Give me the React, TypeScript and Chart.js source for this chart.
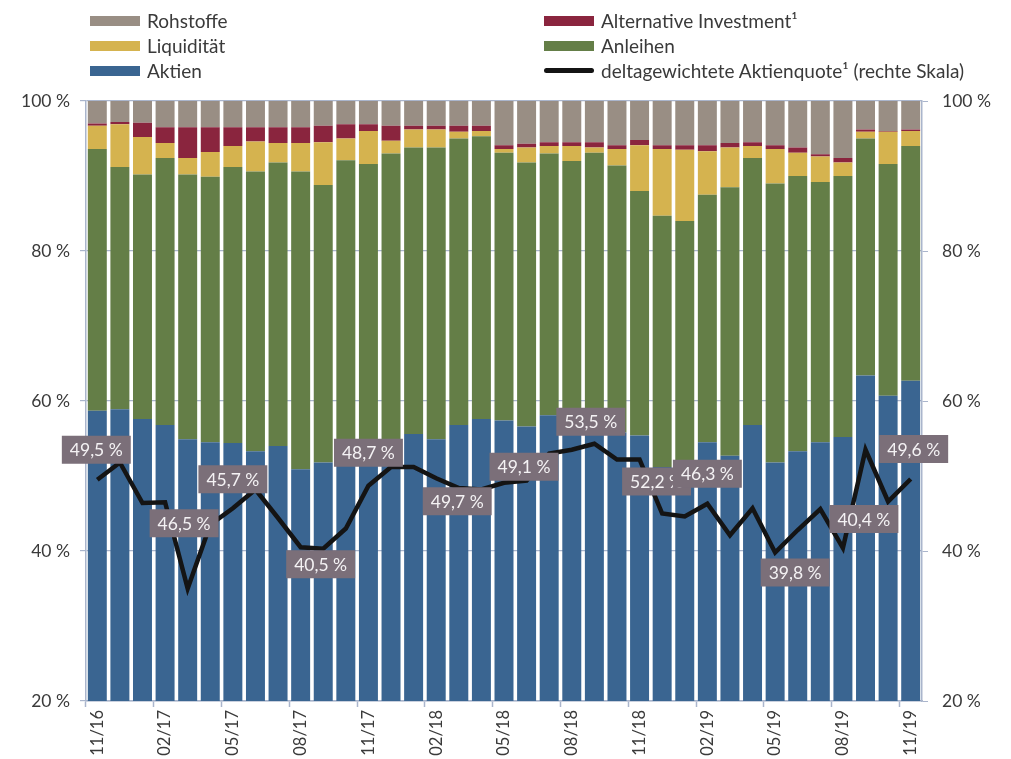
import React, { useEffect, useRef } from "react";
import { Chart, registerables } from "chart.js";

Chart.register(...registerables);

const months = [
  "11/16", "12/16", "01/17", "02/17", "03/17", "04/17", "05/17", "06/17", "07/17", "08/17",
  "09/17", "10/17", "11/17", "12/17", "01/18", "02/18", "03/18", "04/18", "05/18", "06/18",
  "07/18", "08/18", "09/18", "10/18", "11/18", "12/18", "01/19", "02/19", "03/19", "04/19",
  "05/19", "06/19", "07/19", "08/19", "09/19", "10/19", "11/19",
];

const aktien = [
  58.7, 58.9, 57.6, 56.8, 54.9, 54.5, 54.4, 53.3, 54.0, 50.9,
  51.8, 52.6, 53.5, 54.3, 55.6, 54.9, 56.8, 57.6, 57.4, 56.6,
  58.1, 57.5, 56.5, 55.8, 55.4, 51.2, 51.0, 54.5, 52.7, 56.8,
  51.8, 53.3, 54.5, 55.2, 63.4, 60.7, 62.7,
];
const anleihen = [
  34.9, 32.3, 32.6, 35.6, 35.3, 35.4, 36.8, 37.3, 37.8, 39.7,
  37.0, 39.5, 38.1, 38.7, 38.2, 38.9, 38.2, 37.7, 35.7, 35.2,
  34.9, 34.5, 36.6, 35.6, 32.6, 33.5, 33.0, 33.0, 35.8, 35.6,
  37.2, 36.7, 34.7, 34.8, 31.6, 30.9, 31.3,
];
const liquiditaet = [
  3.1, 5.7, 5.0, 2.0, 2.2, 3.3, 2.8, 4.0, 2.6, 3.8,
  5.7, 2.9, 4.4, 1.7, 2.4, 2.4, 0.9, 0.7, 0.5, 2.0,
  1.0, 2.0, 0.7, 2.2, 6.1, 8.9, 9.5, 5.8, 5.3, 1.6,
  4.6, 3.1, 3.4, 1.8, 0.9, 4.3, 2.0,
];
const alternative = [
  0.3, 0.3, 1.9, 2.1, 4.1, 3.3, 2.5, 1.9, 2.1, 2.1,
  2.2, 1.9, 0.9, 2.0, 0.5, 0.5, 0.8, 0.7, 0.5, 0.5,
  0.5, 0.5, 0.7, 0.5, 0.7, 0.5, 0.6, 0.8, 0.6, 0.5,
  0.5, 0.7, 0.3, 0.6, 0.3, 0.1, 0.2,
];
const rohstoffe = [
  3.0, 2.8, 2.9, 3.5, 3.5, 3.5, 3.5, 3.5, 3.5, 3.5,
  3.3, 3.1, 3.1, 3.3, 3.3, 3.3, 3.3, 3.3, 5.9, 5.7,
  5.5, 5.5, 5.5, 5.9, 5.2, 5.9, 5.9, 5.9, 5.6, 5.5,
  5.9, 6.2, 7.1, 7.6, 3.8, 4.0, 3.8,
];
const aktienquote = [
  49.5, 51.8, 46.4, 46.5, 35.0, 43.5, 45.7, 48.2, 44.4, 40.5,
  40.3, 43.0, 48.7, 51.2, 51.2, 49.7, 48.4, 48.2, 49.1, 49.4,
  53.0, 53.5, 54.3, 52.2, 52.2, 45.0, 44.6, 46.3, 42.1, 45.7,
  39.8, 42.8, 45.6, 40.4, 53.5, 46.6, 49.6,
];
const yTicks = [20, 40, 60, 80, 100];

const labelledPoints = [0, 3, 6, 9, 12, 15, 18, 21, 24, 27, 30, 33, 36];
const labelOffsets: [number, number][] = [
  [-1, -30], [19, 21], [0, -29], [20, 17], [0, -33], [21, 23], [20, -16],
  [19, -28], [17, 22], [0, -30], [20, 20], [21, -29], [3, -30],
];

const C_AKT = "#3a6591";
const C_ANL = "#647e47";
const C_LIQ = "#d5b34f";
const C_ALT = "#8a253e";
const C_ROH = "#998e84";
const C_AXIS = "#aab5cc";
const C_TEXT = "#3a3a3a";
const C_BOX = "#7b6f79";
const FONT = "Lato";

const labelPlugin = {
  id: "quoteLabels",
  afterDatasetsDraw(chart: any) {
    const meta = chart.getDatasetMeta(5);
    const ctx = chart.ctx;
    ctx.save();
    ctx.font = `17.5px ${FONT}`;
    ctx.textAlign = "center";
    ctx.textBaseline = "middle";
    labelledPoints.forEach((idx, k) => {
      const pt = meta.data[idx];
      if (!pt) return;
      const [dx, dy] = labelOffsets[k];
      const cx = pt.x + dx;
      const cy = pt.y + dy;
      const text = aktienquote[idx].toFixed(1).replace(".", ",") + " %";
      const w = ctx.measureText(text).width + 16;
      const h = 28;
      ctx.fillStyle = C_BOX;
      ctx.fillRect(cx - w / 2, cy - h / 2, w, h);
      ctx.fillStyle = "#f4f2f4";
      ctx.fillText(text, cx, cy + 1);
    });
    ctx.restore();
  },
};

function LegendItem({ color, label, line }: { color: string; label: string; line?: boolean }) {
  return (
    <div style={{ display: "flex", alignItems: "center", height: 25 }}>
      <div
        style={{
          width: 50,
          height: line ? 5 : 10,
          borderRadius: line ? 3 : 0,
          background: color,
          marginRight: 7,
        }}
      />
      <span style={{ fontFamily: FONT, fontSize: 19, color: C_TEXT, whiteSpace: "nowrap" }}>{label}</span>
    </div>
  );
}

export default function App() {
  const canvasRef = useRef<HTMLCanvasElement | null>(null);

  useEffect(() => {
    if (!canvasRef.current) return;
    const barBase = { barPercentage: 0.84, categoryPercentage: 1, borderWidth: 0, order: 1, yAxisID: "y" };
    const chart = new Chart(canvasRef.current, {
      type: "bar",
      data: {
        labels: months,
        datasets: [
          { ...barBase, label: "Aktien", data: aktien, backgroundColor: C_AKT },
          { ...barBase, label: "Anleihen", data: anleihen, backgroundColor: C_ANL },
          { ...barBase, label: "Liquidität", data: liquiditaet, backgroundColor: C_LIQ },
          { ...barBase, label: "Alternative Investment¹", data: alternative, backgroundColor: C_ALT },
          { ...barBase, label: "Rohstoffe", data: rohstoffe, backgroundColor: C_ROH },
          {
            type: "line",
            label: "deltagewichtete Aktienquote¹ (rechte Skala)",
            data: aktienquote,
            borderColor: "#141414",
            borderWidth: 4.5,
            pointRadius: 0,
            tension: 0,
            order: 0,
            yAxisID: "y2",
            borderJoinStyle: "miter",
          } as any,
        ],
      },
      options: {
        animation: false,
        responsive: true,
        maintainAspectRatio: false,
        layout: { padding: { top: 101, left: 0, right: 0, bottom: 0 } },
        plugins: { legend: { display: false }, tooltip: { enabled: false } },
        scales: {
          x: {
            stacked: true,
            offset: true,
            grid: {
              offset: true,
              drawOnChartArea: false,
              drawTicks: true,
              tickLength: 6,
              tickColor: (c: any) => (c.index % 3 === 0 ? C_AXIS : "rgba(0,0,0,0)"),
              tickWidth: 1.5,
            },
            border: { color: C_AXIS, width: 1.5 },
            ticks: {
              autoSkip: false,
              maxRotation: 90,
              minRotation: 90,
              padding: 3,
              color: C_TEXT,
              font: { family: FONT, size: 16.5 },
              callback: (_v: any, i: number) => (i % 3 === 0 ? months[i] : ""),
            },
            afterFit: (s: any) => {
              s.height = 58;
            },
          },
          y: {
            stacked: true,
            min: 20,
            max: 100,
            afterBuildTicks: (s: any) => {
              s.ticks = yTicks.map((v) => ({ value: v }));
            },
            grid: { color: C_AXIS, lineWidth: 1.2, tickLength: 6, tickColor: C_AXIS },
            border: { color: C_AXIS, width: 1.5 },
            ticks: {
              padding: 10,
              color: C_TEXT,
              font: { family: FONT, size: 17.5 },
              callback: (v: any) => `${v} %`,
            },
            afterFit: (s: any) => {
              s.width = 86;
            },
          },
          y2: {
            position: "right",
            min: 20,
            max: 100,
            afterBuildTicks: (s: any) => {
              s.ticks = yTicks.map((v) => ({ value: v }));
            },
            grid: { drawOnChartArea: false, tickLength: 6, tickColor: C_AXIS },
            border: { color: C_AXIS, width: 1.5 },
            ticks: {
              padding: 14,
              color: C_TEXT,
              font: { family: FONT, size: 17.5 },
              callback: (v: any) => `${v} %`,
            },
            afterFit: (s: any) => {
              s.width = 89;
            },
          },
        },
      } as any,
      plugins: [labelPlugin],
    });
    return () => chart.destroy();
  }, []);

  return (
    <div style={{ position: "absolute", left: 0, top: 0, width: 1011, height: 759, background: "#fff" }}>
      <canvas ref={canvasRef} />
      <div style={{ position: "absolute", left: 90, top: 8 }}>
        <LegendItem color={C_ROH} label="Rohstoffe" />
        <LegendItem color={C_LIQ} label="Liquidität" />
        <LegendItem color={C_AKT} label="Aktien" />
      </div>
      <div style={{ position: "absolute", left: 544, top: 8 }}>
        <LegendItem color={C_ALT} label="Alternative Investment¹" />
        <LegendItem color={C_ANL} label="Anleihen" />
        <LegendItem color="#141414" label="deltagewichtete Aktienquote¹ (rechte Skala)" line />
      </div>
    </div>
  );
}
